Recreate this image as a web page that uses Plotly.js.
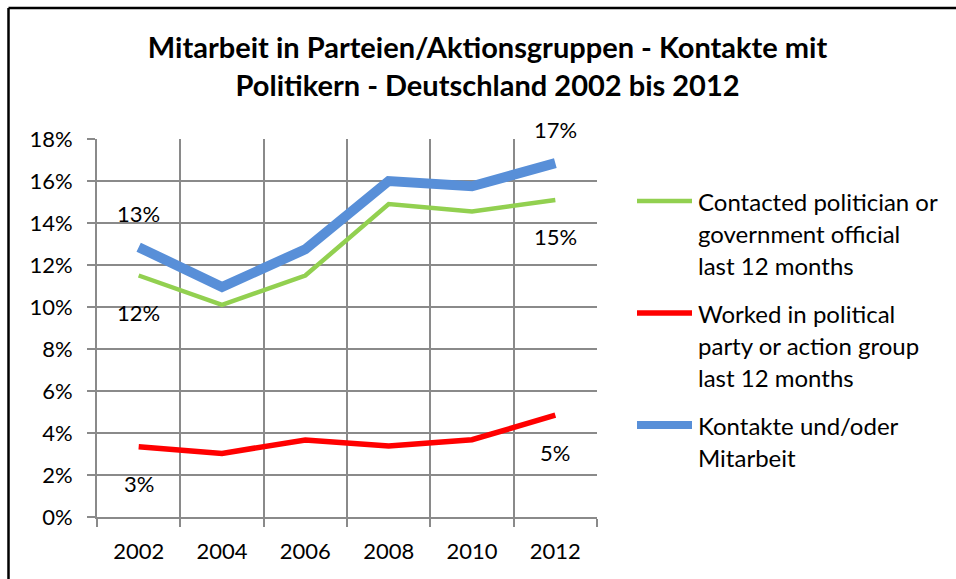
<!DOCTYPE html>
<html>
<head>
<meta charset="utf-8">
<script src="https://cdn.plot.ly/plotly-3.0.1.min.js"></script>
<style>html,body{margin:0;padding:0;background:#fff;}#chart{width:956px;height:579px;}</style>
</head>
<body>
<div id="chart"></div>
<script>
const years = ['2002', '2004', '2006', '2008', '2010', '2012'];
const contacted = [11.5, 10.1, 11.5, 14.9, 14.55, 15.1];
const worked = [3.35, 3.03, 3.67, 3.38, 3.68, 4.85];
const kontakte = [12.85, 10.95, 12.75, 16.0, 15.75, 16.85];
const seriesNames = [
  ['Contacted politician or', 'government official', 'last 12 months'],
  ['Worked in political', 'party or action group', 'last 12 months'],
  ['Kontakte und/oder', 'Mitarbeit']
];
const seriesColors = ['#92D050', '#FF0000', '#588FD8'];
const yTicks = [0, 2, 4, 6, 8, 10, 12, 14, 16, 18];
const titleText = 'Mitarbeit in Parteien/Aktionsgruppen - Kontakte mit<br>Politikern - Deutschland 2002 bis 2012';
// data labels: [year, series index, text, above?]
const dataLabels = [
  ['2002', 2, '13%', true],
  ['2002', 0, '12%', false],
  ['2002', 1, '3%', false],
  ['2012', 2, '17%', true],
  ['2012', 0, '15%', false],
  ['2012', 1, '5%', false]
];

const FONT = 'Lato, "Open Sans", sans-serif';
const seriesValues = [contacted, worked, kontakte];
const lineWidths = [4.5, 5.5, 10];
const traces = seriesValues.map((vals, i) => ({
  x: years, y: vals, name: seriesNames[i].join(' '), type: 'scatter', mode: 'lines',
  line: {color: seriesColors[i], width: lineWidths[i]}, showlegend: false
}));

const annotations = dataLabels.map(d => {
  const xi = years.indexOf(d[0]);
  return {
    x: xi, y: seriesValues[d[1]][xi], xref: 'x', yref: 'y', text: d[2], showarrow: false,
    yshift: d[3] ? 34 : -37, font: {family: FONT, size: 22, color: '#000'}
  };
});

// plot area in pixels
const L = 97, R = 359, T = 139, B = 62, W = 956, H = 579;
const plotW = W - L - R, plotH = H - T - B;
const px = x => (x - L) / plotW;
const py = y => (H - B - y) / plotH;

// custom legend (line + wrapped text) to mimic the reference layout
const legendLineY = [201, 313, 425];
const lineGap = 32;
const shapes = [];
seriesNames.forEach((lines, i) => {
  const y0 = legendLineY[i];
  shapes.push({type: 'line', xref: 'paper', yref: 'paper', x0: px(637), x1: px(692), y0: py(y0), y1: py(y0),
    line: {color: seriesColors[i], width: Math.min(lineWidths[i], 8)}});
  lines.forEach((t, j) => {
    annotations.push({xref: 'paper', yref: 'paper', x: px(696), y: py(y0 + j * lineGap), xanchor: 'left', yanchor: 'middle',
      text: t, showarrow: false, font: {family: FONT, size: 24, color: '#000'}});
  });
});
// chart border (left and top)
shapes.push({type: 'line', xref: 'paper', yref: 'paper', x0: px(8.5), x1: px(960), y0: py(8), y1: py(8), line: {color: '#000', width: 2.5}});
shapes.push({type: 'line', xref: 'paper', yref: 'paper', x0: px(8.5), x1: px(8.5), y0: py(8), y1: py(585), line: {color: '#000', width: 2.5}});

const GRID = '#8A8A8A';
const layout = {
  width: W, height: H,
  margin: {l: L, r: R, t: T, b: B},
  paper_bgcolor: '#fff', plot_bgcolor: '#fff',
  font: {family: FONT, color: '#000'},
  title: {text: titleText, x: 0.51, xanchor: 'center', y: 0.90, yanchor: 'top',
    font: {family: FONT, size: 29, color: '#000', weight: 'bold'}},
  showlegend: false,
  xaxis: {type: 'category', tickson: 'boundaries', ticks: 'outside', ticklen: 8,
    tickcolor: GRID, tickwidth: 2, showgrid: true, gridcolor: GRID, gridwidth: 2, zeroline: false,
    showline: true, linecolor: GRID, linewidth: 2, range: [-0.5, 5.5],
    tickfont: {family: FONT, size: 22, color: '#000'}, ticklabelstandoff: 14, fixedrange: true},
  yaxis: {range: [0, 18], tickvals: yTicks, ticktext: yTicks.map(v => v + '%'),
    ticks: 'outside', ticklen: 8, tickcolor: GRID, tickwidth: 2,
    showgrid: true, gridcolor: GRID, gridwidth: 2,
    showline: true, linecolor: GRID, linewidth: 2, zeroline: false,
    tickfont: {family: FONT, size: 22, color: '#000'}, ticklabelstandoff: 10, fixedrange: true},
  annotations: annotations,
  shapes: shapes
};

Plotly.newPlot('chart', traces, layout, {displayModeBar: false, staticPlot: true});
</script>
</body>
</html>
